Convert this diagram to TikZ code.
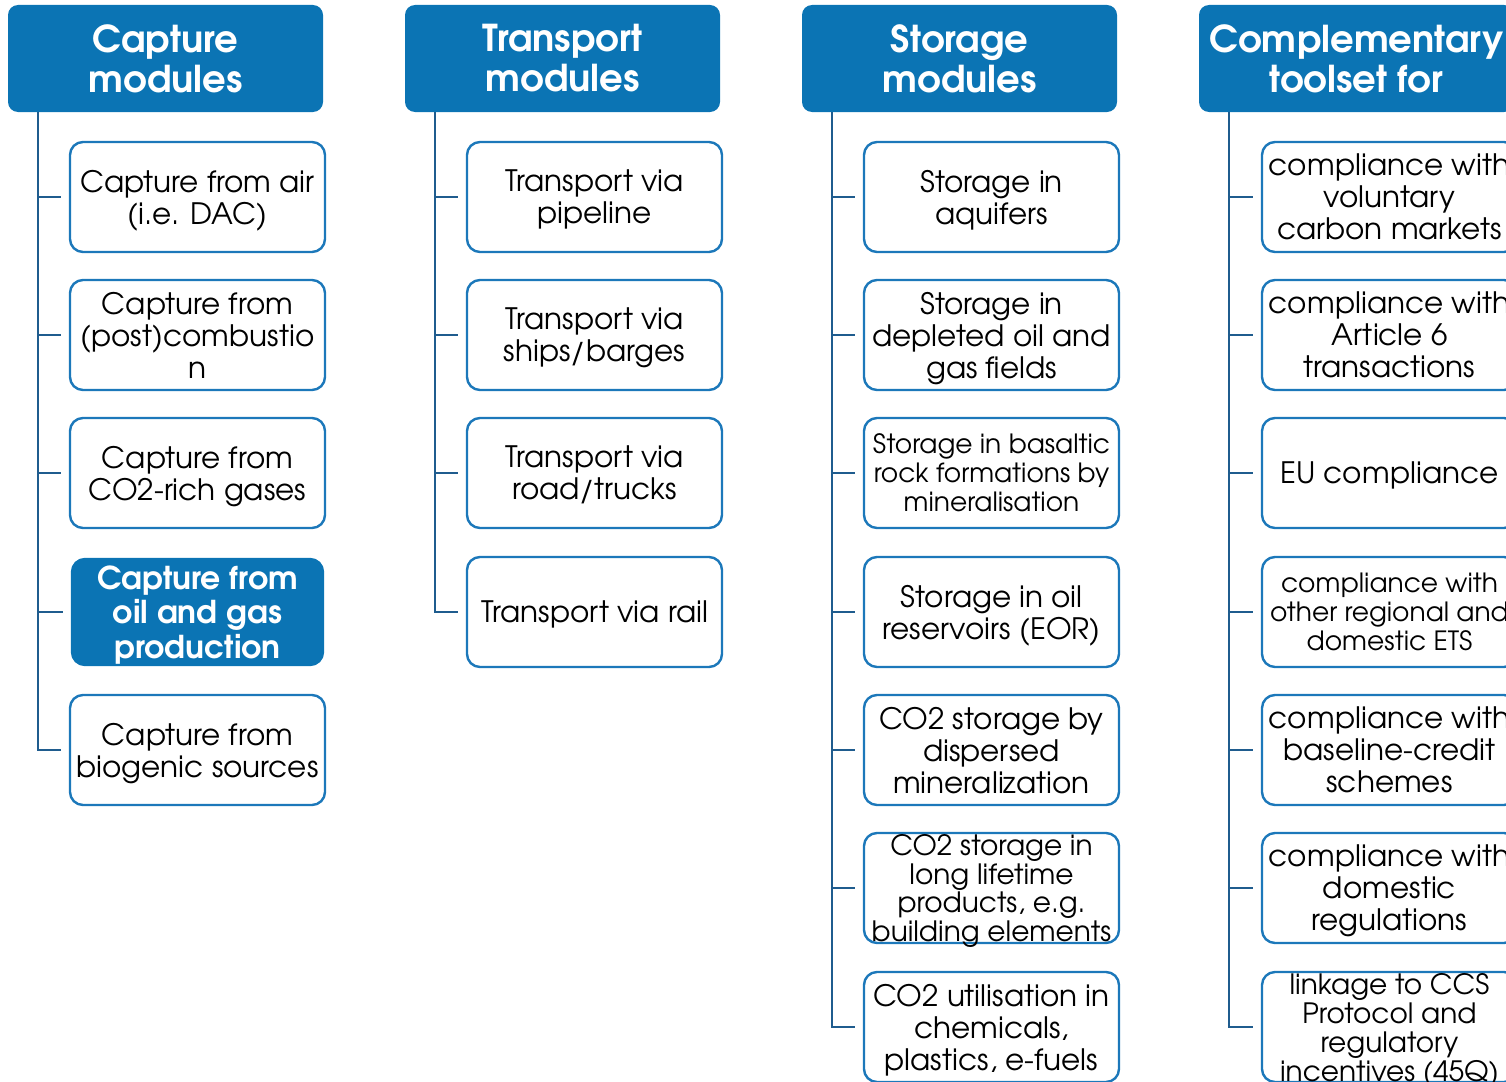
\documentclass[tikz,border=0pt]{standalone}
\usepackage{fontspec}
\setmainfont{TeX Gyre Adventor}
\usetikzlibrary{positioning}
\definecolor{headblue}{HTML}{0B74B4}
\definecolor{trunkblue}{HTML}{1F5C8E}
\definecolor{boxblue}{HTML}{1C78BA}
\tikzset{
  head/.style={fill=headblue, rounded corners=10pt, minimum width=315pt, minimum height=107pt, inner sep=0pt,
    text=white, align=center, font=\fontsize{37}{40}\selectfont\bfseries},
  box/.style={draw=boxblue, line width=2.4pt, fill=white, rounded corners=13pt, minimum width=255pt, minimum height=110pt,
    inner sep=0pt, align=center, text=black, text depth=0pt, font=\fontsize{29.5}{32}\selectfont},
  boxfill/.style={box, fill=headblue, draw=headblue, text=white, font=\fontsize{31.5}{34.5}\selectfont\bfseries, minimum width=251pt, minimum height=106pt},
  small/.style={font=\fontsize{26.5}{29}\selectfont},
  trunk/.style={draw=trunkblue, line width=2.6pt},
}
\newcommand{\branch}[1]{\draw[trunk] ([xshift=-8pt]#1.west) -- ([xshift=-32pt]#1.west);}
\begin{document}
\begin{tikzpicture}[x=1pt,y=-1pt]
\useasboundingbox (0,0) rectangle (1506,1081);
\clip (0,0) rectangle (1506,1081);
% headers
\node[head] (h1) at (165.5,58.5) {Capture\\modules};
\node[head] (h2) at (562.5,58.5) {Transport\\modules};
\node[head] (h3) at (959.5,58.5) {Storage\\modules};
\node[head] (h4) at (1356.5,58.5) {Complementary\\toolset for};
% column 1
\node[box] (c1) at (197.5,197) {Capture from air\\(i.e. DAC)};
\node[box] (c2) at (197.5,335) {Capture from\\(post)combustio\\n};
\node[box] (c3) at (197.5,473) {Capture from\\CO2-rich gases};
\node[boxfill] (c4) at (197.5,612) {Capture from\\oil and gas\\production};
\node[box] (c5) at (197.5,750) {Capture from\\biogenic sources};
% column 2
\node[box] (t1) at (594.5,197) {Transport via\\pipeline};
\node[box] (t2) at (594.5,335) {Transport via\\ships/barges};
\node[box] (t3) at (594.5,473) {Transport via\\road/trucks};
\node[box] (t4) at (594.5,612) {Transport via rail};
% column 3
\node[box] (s1) at (991.5,197) {Storage in\\aquifers};
\node[box] (s2) at (991.5,335) {Storage in\\depleted oil and\\gas fields};
\node[box, small] (s3) at (991.5,473) {Storage in basaltic\\rock formations by\\mineralisation};
\node[box] (s4) at (991.5,612) {Storage in oil\\reservoirs (EOR)};
\node[box] (s5) at (991.5,750) {CO2 storage by\\dispersed\\mineralization};
\node[box, font=\fontsize{28}{28.5}\selectfont] (s6) at (991.5,888) {CO2 storage in\\long lifetime\\products, e.g.\\building elements};
\node[box] (s7) at (991.5,1027) {CO2 utilisation in\\chemicals,\\plastics, e-fuels};
% column 4
\node[box] (k1) at (1389.5,197) {compliance with\\voluntary\\carbon markets};
\node[box] (k2) at (1389.5,335) {compliance with\\Article 6\\transactions};
\node[box] (k3) at (1389.5,473) {EU compliance};
\node[box, small] (k4) at (1389.5,612) {compliance with\\other regional and\\domestic ETS};
\node[box] (k5) at (1389.5,750) {compliance with\\baseline-credit\\schemes};
\node[box] (k6) at (1389.5,888) {compliance with\\domestic\\regulations};
\node[box, font=\fontsize{28}{29}\selectfont] (k7) at (1389.5,1027) {linkage to CCS\\Protocol and\\regulatory\\incentives (45Q)};
% trunks
\draw[trunk] ([xshift=30pt]h1.south west) |- ([xshift=-8pt]c5.west);
\draw[trunk] ([xshift=30pt]h2.south west) |- ([xshift=-8pt]t4.west);
\draw[trunk] ([xshift=30pt]h3.south west) |- ([xshift=-8pt]s7.west);
\draw[trunk] ([xshift=30pt]h4.south west) |- ([xshift=-8pt]k7.west);
\branch{c1}\branch{c2}\branch{c3}\branch{c4}
\branch{t1}\branch{t2}\branch{t3}
\branch{s1}\branch{s2}\branch{s3}\branch{s4}\branch{s5}\branch{s6}
\branch{k1}\branch{k2}\branch{k3}\branch{k4}\branch{k5}\branch{k6}
\end{tikzpicture}
\end{document}
